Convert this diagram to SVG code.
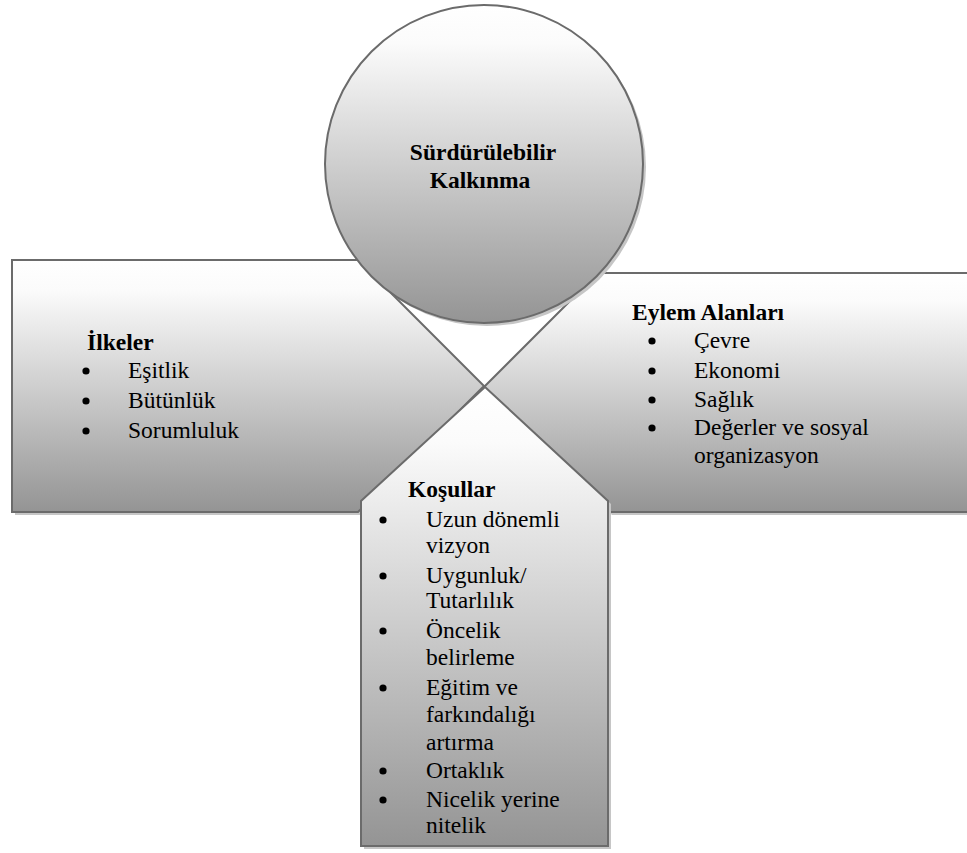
<svg xmlns="http://www.w3.org/2000/svg" width="967" height="853" viewBox="0 0 967 853">
  <defs>
    <linearGradient id="fillGrad" x1="0" y1="0" x2="0" y2="1">
      <stop offset="0" stop-color="#ffffff"/>
      <stop offset="0.12" stop-color="#fbfbfb"/>
      <stop offset="1" stop-color="#949494"/>
    </linearGradient>
  </defs>
  <style>
    .shape { fill: url(#fillGrad); stroke: #6b6b6b; stroke-width: 2; stroke-linejoin: miter; }
    .shadow { fill: #c6c6c6; stroke: none; }
    .head { font-family: "Liberation Serif", "Times New Roman", serif; font-size: 23.5px; font-weight: bold; fill: #000; }
    .item { font-family: "Liberation Serif", "Times New Roman", serif; font-size: 23.5px; fill: #000; }
    .bullet { fill: #000; }
  </style>
  <rect width="967" height="853" fill="#ffffff"/>

  <!-- Principles (left arrow) -->
  <g id="ilkeler">
    <polygon class="shadow" points="15,263 361,263 487,389 361,515 15,515"/>
    <polygon class="shape" points="12,260 358,260 484,386 358,512 12,512"/>
    <text class="head" x="87" y="350">İlkeler</text>
    <circle class="bullet" cx="86" cy="371" r="3.6"/>
    <circle class="bullet" cx="86" cy="401" r="3.6"/>
    <circle class="bullet" cx="86" cy="431" r="3.6"/>
    <text class="item" x="128" y="378">Eşitlik</text>
    <text class="item" x="128" y="408">Bütünlük</text>
    <text class="item" x="128" y="438">Sorumluluk</text>
  </g>

  <!-- Fields of action (right arrow) -->
  <g id="eylem-alanlari">
    <polygon class="shadow" points="487,390 601,276 1003,276 1003,515 612,515"/>
    <polygon class="shape" points="484,387 598,273 1002,273 1002,512 609,512"/>
    <text class="head" x="632" y="320">Eylem Alanları</text>
    <circle class="bullet" cx="652" cy="341" r="3.6"/>
    <circle class="bullet" cx="652" cy="371" r="3.6"/>
    <circle class="bullet" cx="652" cy="400" r="3.6"/>
    <circle class="bullet" cx="652" cy="428" r="3.6"/>
    <text class="item" x="694" y="348">Çevre</text>
    <text class="item" x="694" y="378">Ekonomi</text>
    <text class="item" x="694" y="407">Sağlık</text>
    <text class="item" x="694" y="435">Değerler ve sosyal</text>
    <text class="item" x="694" y="463">organizasyon</text>
  </g>

  <!-- Sustainable development (centre circle) -->
  <g id="surdurulebilir-kalkinma">
    <circle class="shadow" cx="487" cy="167" r="159"/>
    <circle class="shape" cx="484" cy="164" r="159"/>
    <text class="head" x="483" y="160" text-anchor="middle">Sürdürülebilir</text>
    <text class="head" x="480" y="188" text-anchor="middle">Kalkınma</text>
  </g>

  <!-- Conditions (upward arrow) -->
  <g id="kosullar">
    <polygon class="shadow" points="488,390 611,504 611,849 364,849 364,504"/>
    <polygon class="shape" points="485,387 608,501 608,846 361,846 361,501"/>
    <text class="head" x="408" y="497">Koşullar</text>
    <circle class="bullet" cx="383" cy="520" r="3.6"/>
    <circle class="bullet" cx="383" cy="576" r="3.6"/>
    <circle class="bullet" cx="383" cy="631" r="3.6"/>
    <circle class="bullet" cx="383" cy="688" r="3.6"/>
    <circle class="bullet" cx="383" cy="771" r="3.6"/>
    <circle class="bullet" cx="383" cy="800" r="3.6"/>
    <text class="item" x="426" y="527">Uzun dönemli</text>
    <text class="item" x="426" y="553">vizyon</text>
    <text class="item" x="426" y="583">Uygunluk/</text>
    <text class="item" x="426" y="608">Tutarlılık</text>
    <text class="item" x="426" y="638">Öncelik</text>
    <text class="item" x="426" y="665">belirleme</text>
    <text class="item" x="426" y="695">Eğitim ve</text>
    <text class="item" x="426" y="722">farkındalığı</text>
    <text class="item" x="426" y="750">artırma</text>
    <text class="item" x="426" y="778">Ortaklık</text>
    <text class="item" x="426" y="807">Nicelik yerine</text>
    <text class="item" x="426" y="833">nitelik</text>
  </g>

  <!-- no connectors: the shapes meet directly -->
  <g id="connectors"/>
</svg>
